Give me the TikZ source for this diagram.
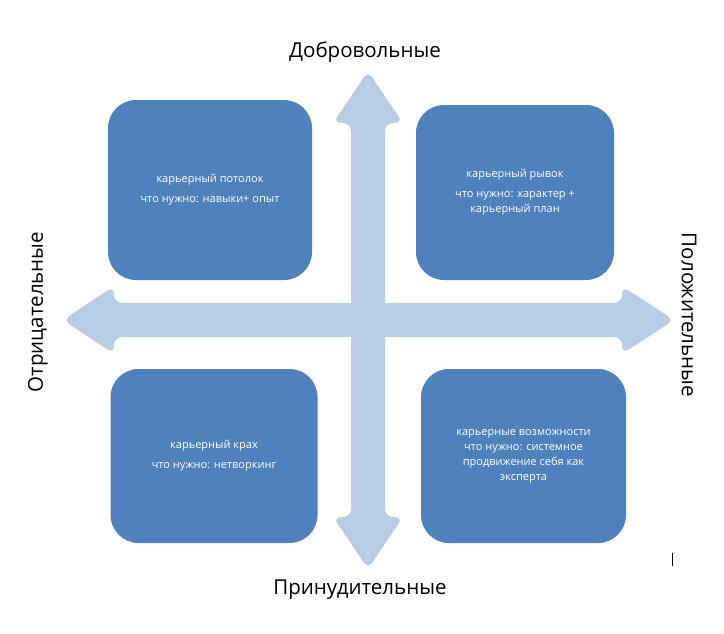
\documentclass[tikz,border=0pt]{standalone}
\usepackage{fontspec}
\setmainfont{Open Sans}
\usepackage{tikz}
\usetikzlibrary{positioning}
\definecolor{qdbox}{RGB}{79,129,189}
\definecolor{qdaxis}{RGB}{185,205,229}
\tikzset{
  quad/.style={
    fill=qdbox, rounded corners=28pt, text=white, align=center,
    font=\fontsize{11}{15}\selectfont, inner sep=0pt
  },
  axisarr/.style={fill=qdaxis, rounded corners=8pt},
  pole/.style={font=\fontsize{20.5}{24}\selectfont, text=black},
  every picture/.append style={line join=round}
}
\begin{document}
\begin{tikzpicture}[x=1pt, y=-1pt]
  \useasboundingbox (0,0) rectangle (724,633);
  % axes
  \fill[axisarr] (368,71) -- (403,123) -- (385,123) -- (385,517) -- (403,517)
    -- (368,569) -- (333,517) -- (351,517) -- (351,123) -- (333,123) -- cycle;
  \fill[axisarr] (63,320) -- (114,286) -- (114,303) -- (622,303) -- (622,286)
    -- (674,320) -- (622,354) -- (622,337) -- (114,337) -- (114,354) -- cycle;
  % quadrants
  \node[quad, minimum width=204pt, minimum height=180pt] (ceil) at (210,190)
    {карьерный потолок\\[5pt]что нужно: навыки+ опыт};
  \node[quad, minimum width=198pt, minimum height=175pt] (leap) at (515,192.5)
    {карьерный рывок\\[5pt]что нужно: характер +\\карьерный план};
  \node[quad, minimum width=207pt, minimum height=174pt] (crash) at (214,456)
    {карьерный крах\\[5pt]что нужно: нетворкинг};
  \node[quad, minimum width=205pt, minimum height=174pt] (chance) at (523.5,456)
    {карьерные возможности\\что нужно: системное\\продвижение себя как\\эксперта};
  % poles
  \node[pole] (vol) at (365,52) {Добровольные};
  \node[pole] (forced) at (360,590) {Принудительные};
  \node[pole, rotate=90] (neg) at (38,312) {Отрицательные};
  \node[pole, rotate=-90] (pos) at (689,315) {Положительные};
  \coordinate (mk) at (672,553);
  \draw[line width=1pt] (mk) -- ++(0,13);
\end{tikzpicture}
\end{document}
